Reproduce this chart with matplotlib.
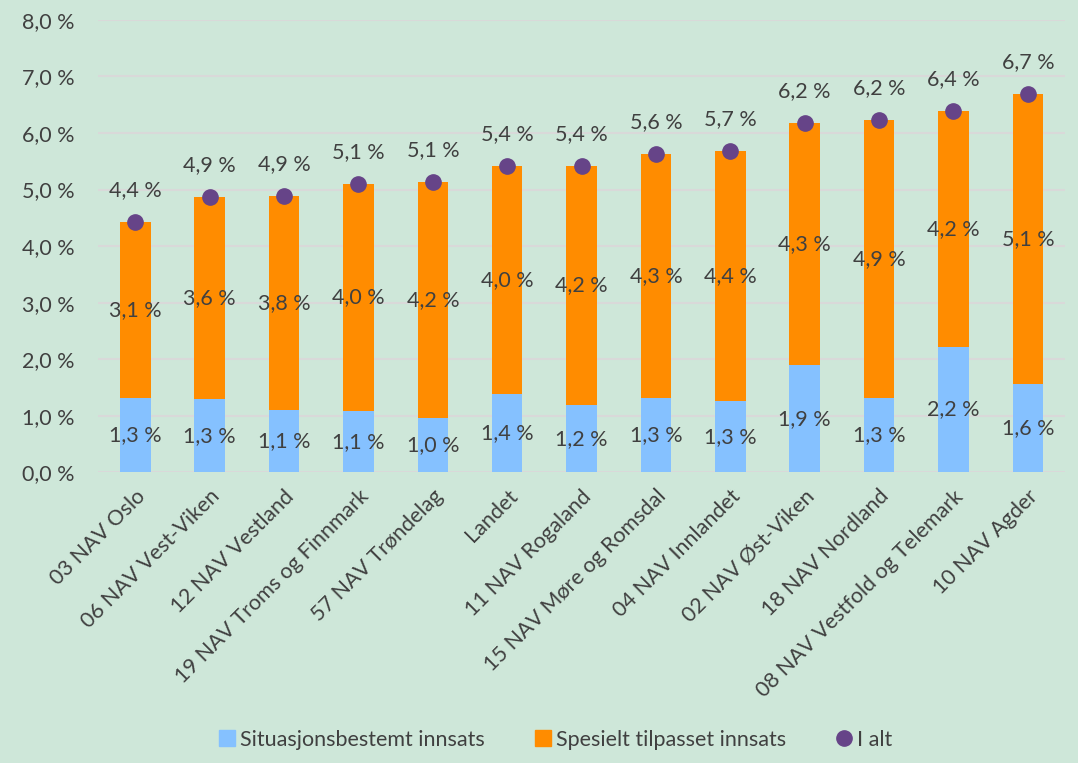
import numpy as np
import matplotlib.pyplot as plt
from matplotlib.lines import Line2D

plt.rcParams['font.family'] = ['Lato', 'DejaVu Sans']

kontor = ["03 NAV Oslo", "06 NAV Vest-Viken", "12 NAV Vestland",
          "19 NAV Troms og Finnmark", "57 NAV Trøndelag", "Landet",
          "11 NAV Rogaland", "15 NAV Møre og Romsdal", "04 NAV Innlandet",
          "02 NAV Øst-Viken", "18 NAV Nordland", "08 NAV Vestfold og Telemark",
          "10 NAV Agder"]
situasjon = [1.31, 1.29, 1.11, 1.08, 0.96, 1.38, 1.19, 1.31, 1.26, 1.89, 1.31, 2.22, 1.56]
spesielt = [3.11, 3.58, 3.77, 4.02, 4.17, 4.04, 4.23, 4.32, 4.42, 4.28, 4.92, 4.17, 5.13]

bg = "#cee7d9"
blue = "#85c1ff"
orange = "#ff8c00"
purple = "#664488"
txt = "#404040"
fs = 15.5

situasjon = np.array(situasjon)
spesielt = np.array(spesielt)
total = situasjon + spesielt
x = np.arange(len(kontor))

fig = plt.figure(figsize=(10.78, 7.63), dpi=100, facecolor=bg)
ax = fig.add_axes([0.091, 0.381, 0.897, 0.593], facecolor=bg)

ax.bar(x, situasjon, width=0.41, color=blue, zorder=2)
ax.bar(x, spesielt, width=0.41, bottom=situasjon, color=orange, zorder=2)
ax.plot(x, total, 'o', color=purple, markersize=11, zorder=3)

def fmt(v):
    return f"{v:.1f} %".replace(".", ",")

for i in range(len(x)):
    ax.text(x[i], situasjon[i] / 2, fmt(situasjon[i]), ha='center', va='center',
            fontsize=fs, color=txt, zorder=4)
    ax.text(x[i], situasjon[i] + spesielt[i] / 2, fmt(spesielt[i]), ha='center',
            va='center', fontsize=fs, color=txt, zorder=4)
    ax.annotate(fmt(total[i]), (x[i], total[i]), xytext=(0, 23), textcoords='offset points',
                ha='center', va='center', fontsize=fs, color=txt, zorder=4)

ax.set_xlim(-0.5, len(x) - 0.5)
ax.set_ylim(0, 8)
ax.set_yticks(np.arange(0, 9))
ax.set_yticklabels([fmt(v) for v in range(9)], fontsize=fs, color=txt)
ax.set_xticks(x)
ax.set_xticklabels(kontor, rotation=45, ha='right', rotation_mode='anchor',
                   fontsize=fs, color=txt)
ax.tick_params(axis='both', length=0)
ax.tick_params(axis='y', pad=17)
ax.tick_params(axis='x', pad=10)
ax.grid(axis='y', color='#d9d9d9', linewidth=1.5, zorder=0)
for s in ax.spines.values():
    s.set_visible(False)

handles = [Line2D([], [], marker='s', linestyle='none', color=blue, markersize=11),
           Line2D([], [], marker='s', linestyle='none', color=orange, markersize=11),
           Line2D([], [], marker='o', linestyle='none', color=purple, markersize=11)]
labels = ["Situasjonsbestemt innsats", "Spesielt tilpasset innsats", "I alt"]
fig.legend(handles, labels, loc='lower center', bbox_to_anchor=(0.516, -0.008), ncol=3,
           frameon=False, fontsize=fs, labelcolor=txt, handlelength=0.6,
           handletextpad=0.3, columnspacing=2.4)

fig.savefig("out.png", dpi=100, facecolor=bg)
